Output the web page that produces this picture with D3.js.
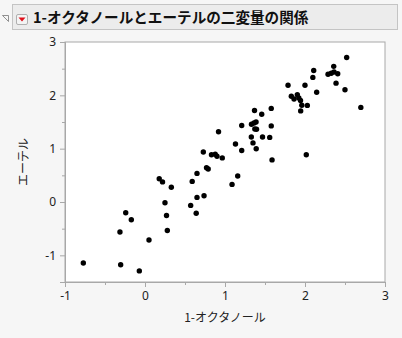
<!DOCTYPE html>
<html>
<head>
<meta charset="utf-8">
<script src="https://cdn.jsdelivr.net/npm/d3@7"></script>
<style>
  body { margin: 0; background: #f6f6f6; font-family: 'Noto Sans CJK JP', 'Noto Sans', sans-serif; }
</style>
</head>
<body>
<svg id="chart" width="402" height="338"></svg>
<script>
// title / labels
const title = '1-オクタノールとエーテルの二変量の関係';
const xLabel = '1-オクタノール';
const yLabel = 'エーテル';

// axis ticks
const xTicks = [-1, 0, 1, 2, 3];
const yTicks = [-1, 0, 1, 2, 3];

// 1-octanol values
const octanol = [
  -0.771, -0.304, -0.071, -0.313, 0.05, -0.241, -0.171, 0.178, 0.219, 0.329,
  0.25, 0.269, 0.279, 0.571, 0.64, 0.59, 0.65, 0.65, 0.738, 0.729,
  0.769, 0.79, 0.831, 0.878, 0.9, 0.966, 0.919, 1.088, 1.159, 1.131,
  1.209, 1.209, 1.35, 1.39, 1.329, 1.469, 1.559, 1.373, 1.394, 1.331,
  1.363, 1.388, 1.578, 1.369, 1.459, 1.578, 1.588, 2.016, 1.788, 2.0,
  1.829, 1.863, 1.904, 1.923, 1.944, 1.96, 2.029, 1.946, 2.098, 2.109,
  2.146, 2.288, 2.328, 2.363, 2.409, 2.359, 2.388, 2.5, 2.521, 2.698
];
// ether values
const ether = [
  -1.144, -1.176, -1.292, -0.563, -0.713, -0.201, -0.332, 0.437, 0.377, 0.277,
  -0.013, -0.253, -0.533, -0.064, -0.21, 0.386, 0.536, 0.086, 0.118, 0.937,
  0.643, 0.619, 0.887, 0.896, 0.859, 0.827, 1.318, 0.33, 0.487, 1.087,
  0.967, 1.434, 1.108, 0.999, 1.219, 1.219, 1.211, 1.369, 1.363, 1.457,
  1.481, 1.5, 1.427, 1.717, 1.646, 1.755, 0.789, 0.887, 2.19, 2.19,
  1.984, 1.931, 2.012, 1.952, 1.903, 1.815, 1.811, 1.708, 2.336, 2.467,
  2.059, 2.396, 2.415, 2.438, 2.406, 2.543, 2.228, 2.106, 2.709, 1.774
];

const svg = d3.select('#chart');
const pLeft = 65, pRight = 385, pTop = 42, pBottom = 282;

// header bar
svg.append('path')
  .attr('d', 'M2.5,15.5 L8.5,15.5 L8.5,21.5 Z')
  .attr('fill', 'none')
  .attr('stroke', '#777')
  .attr('stroke-width', 0.8);
svg.append('rect')
  .attr('x', 12.5).attr('y', 4.5)
  .attr('width', 385).attr('height', 25)
  .attr('fill', '#ececec')
  .attr('stroke', '#c4c4c4');
svg.append('rect')
  .attr('x', 16.5).attr('y', 14.5)
  .attr('width', 11).attr('height', 10)
  .attr('rx', 1.5)
  .attr('fill', '#f4f4f4')
  .attr('stroke', '#b0b0b0');
svg.append('path')
  .attr('d', 'M18.5,17.5 L25.5,17.5 L22,21.5 Z')
  .attr('fill', '#e0101a');
svg.append('text')
  .attr('x', 33).attr('y', 23)
  .attr('font-size', 14.6)
  .attr('font-weight', 'bold')
  .attr('fill', '#111')
  .text(title);

const x = d3.scaleLinear().domain([-1, 3]).range([pLeft, pRight]);
const y = d3.scaleLinear().domain([-1.5, 3]).range([pBottom, pTop]);

svg.append('rect')
  .attr('x', pLeft).attr('y', pTop)
  .attr('width', pRight - pLeft).attr('height', pBottom - pTop)
  .attr('fill', '#fff')
  .attr('stroke', '#a8a8a8');

// minor ticks
const fmt = (d) => String(d);
const xAxisMinor = d3.axisBottom(x).tickValues([-0.5, 0.5, 1.5, 2.5]).tickSize(3).tickFormat('');
const yAxisMinor = d3.axisLeft(y).tickValues([-1.5, -0.5, 0.5, 1.5, 2.5]).tickSize(3).tickFormat('');
const xAxis = d3.axisBottom(x).tickValues(xTicks).tickSize(5).tickPadding(4).tickFormat(fmt);
const yAxis = d3.axisLeft(y).tickValues(yTicks).tickSize(5).tickPadding(4).tickFormat(fmt);

[ [xAxisMinor, 'x'], [xAxis, 'x'], [yAxisMinor, 'y'], [yAxis, 'y'] ].forEach(([ax, k]) => {
  const g = svg.append('g')
    .attr('transform', k == 'x' ? `translate(0,${pBottom})` : `translate(${pLeft},0)`)
    .call(ax);
  g.select('.domain').attr('stroke', '#a8a8a8');
  g.selectAll('.tick line').attr('stroke', '#a8a8a8');
  g.selectAll('.tick text')
    .attr('font-size', 12)
    .attr('font-family', "'Noto Sans', sans-serif")
    .attr('fill', '#222');
});

svg.append('g')
  .selectAll('circle')
  .data(octanol)
  .enter()
  .append('circle')
  .attr('cx', (d) => x(d))
  .attr('cy', (d, i) => y(ether[i]))
  .attr('r', 2.7)
  .attr('fill', '#000');

svg.append('text')
  .attr('x', (pLeft + pRight) / 2).attr('y', 322)
  .attr('text-anchor', 'middle')
  .attr('font-size', 12)
  .attr('fill', '#222')
  .text(xLabel);

svg.append('text')
  .attr('transform', `translate(28,${(pTop + pBottom) / 2}) rotate(-90)`)
  .attr('text-anchor', 'middle')
  .attr('font-size', 12)
  .attr('fill', '#222')
  .text(yLabel);
</script>
</body>
</html>
